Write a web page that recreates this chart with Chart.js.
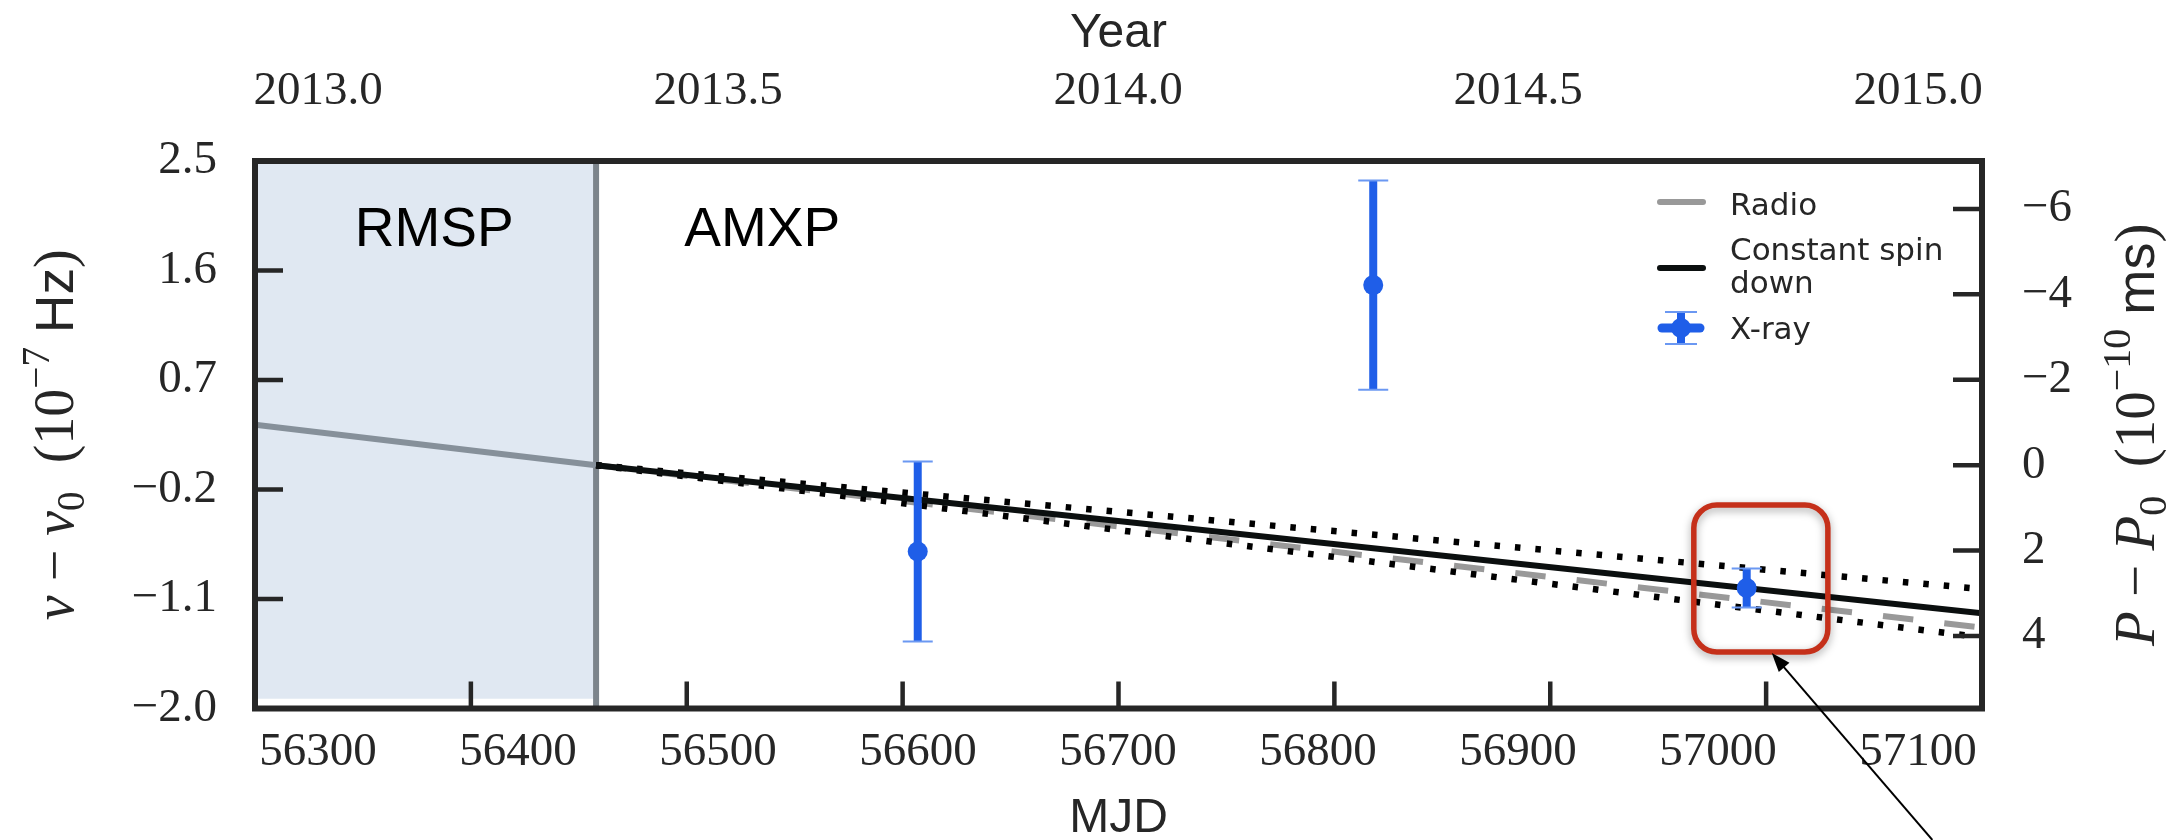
<!DOCTYPE html>
<html>
<head>
<meta charset="utf-8">
<title>Spin frequency evolution</title>
<script src="https://cdn.jsdelivr.net/npm/chart.js@4.4.1/dist/chart.umd.min.js"></script>
<style>
  html, body { margin: 0; padding: 0; background: #fff; }
  canvas { display: block; }
</style>
</head>
<body>
<canvas id="chart" width="2176" height="840"></canvas>
<script>
// tick values
const mjdTicks = [56300, 56400, 56500, 56600, 56700, 56800, 56900, 57000, 57100];
const yearTicks = [2013.0, 2013.5, 2014.0, 2014.5, 2015.0];
const nuTicks = [-2.0, -1.1, -0.2, 0.7, 1.6, 2.5];
const periodTicks = [-6, -4, -2, 0, 2, 4];

// RMSP -> AMXP transition
const transitionMJD = 56458;
const rmspShadeFloor = -1.92;

// radio timing solution, extrapolated after the transition
const radioMJD = [56300, 56458, 57100];
const radioNu = [0.333, 0.0, -1.335];

// constant spin-down from the transition, with its bounds
const spinMJD = [56458, 57100];
const spinNu = [0.0, -1.217];
const spinUpperNu = [0.0, -1.018];
const spinLowerNu = [0.0, -1.416];

// X-ray pulse frequencies
const xrayMJD = [56607, 56818, 56991];
const xrayNu = [-0.71, 1.48, -1.01];
const xrayErr = [0.74, 0.86, 0.16];

const phaseNames = ['RMSP', 'AMXP'];
const phaseNameMJD = [56383, 56535];
const phaseNameNu = 1.80;

// red callout round the last X-ray point, and the arrow pointing at it
const calloutMJD = [56966.5, 57028.6];
const calloutNu = [-0.327, -1.536];
const arrowMJD = [57077, 57002.6];
const arrowNu = [-3.08, -1.544];

// the printed MJD and year labels sit on a slightly narrower span than
// the tick marks in the source figure, so they get their own axes
const mjdLabelRange = [56268.5, 57132];
const yearRange = [2012.921, 2015.08];

const nu0 = 592.42; // Hz
const periodPerNu = 1e6 / (nu0 * nu0); // 1e-7 Hz -> 1e-10 ms

const ink = '#262626';
const serif = "'Liberation Serif', 'DejaVu Serif', serif";
const sans = "'Liberation Sans', Arial, sans-serif";
const blue = '#1f5ee8';

const pts = (xs, ys) => xs.map((x, i) => ({ x, y: ys[i] }));
const minus = (s) => s.replace('-', '\u2212');

const errorBars = xrayMJD.map((m, i) => ({
  data: [{ x: m, y: xrayNu[i] - xrayErr[i] }, { x: m, y: xrayNu[i] + xrayErr[i] }],
  borderColor: blue,
  borderWidth: 8,
  borderCapStyle: 'butt',
  pointStyle: 'line',
  pointRadius: 15,
  pointBorderWidth: 2,
  pointBorderColor: '#6b98f2',
  order: 2,
}));

const dotted = {
  borderColor: '#000',
  borderWidth: 6.5,
  borderDash: [5.5, 15],
  borderCapStyle: 'butt',
  pointRadius: 0,
  order: 7,
};

const datasets = [
  {
    // RMSP phase shading
    data: [{ x: 56300, y: rmspShadeFloor }, { x: transitionMJD, y: rmspShadeFloor }],
    fill: 'end',
    backgroundColor: '#e0e8f2',
    borderColor: 'rgba(0,0,0,0)',
    borderWidth: 0,
    pointRadius: 0,
    order: 10,
  },
  {
    data: [{ x: transitionMJD, y: nuTicks[0] }, { x: transitionMJD, y: nuTicks[nuTicks.length - 1] }],
    borderColor: '#7c848b',
    borderWidth: 6,
    pointRadius: 0,
    order: 9,
  },
  {
    label: 'Radio',
    data: pts(radioMJD, radioNu),
    borderColor: '#999999',
    borderWidth: 6,
    borderCapStyle: 'butt',
    pointRadius: 0,
    segment: {
      borderColor: (c) => (c.p0DataIndex === 0 ? '#86909a' : undefined),
      borderDash: (c) => (c.p0DataIndex === 1 ? [30.5, 31.2] : undefined),
    },
    order: 8,
  },
  { ...dotted, data: pts(spinMJD, spinUpperNu) },
  { ...dotted, data: pts(spinMJD, spinLowerNu) },
  {
    label: 'Constant spin down',
    data: pts(spinMJD, spinNu),
    borderColor: '#0b0f0f',
    borderWidth: 6,
    pointRadius: 0,
    order: 6,
  },
  ...errorBars,
  {
    label: 'X-ray',
    data: pts(xrayMJD, xrayNu),
    showLine: false,
    pointRadius: 10,
    pointBackgroundColor: blue,
    pointBorderWidth: 0,
    order: 1,
  },
];

function roundRect(ctx, x, y, w, h, r) {
  ctx.beginPath();
  ctx.moveTo(x + r, y);
  ctx.arcTo(x + w, y, x + w, y + h, r);
  ctx.arcTo(x + w, y + h, x, y + h, r);
  ctx.arcTo(x, y + h, x, y, r);
  ctx.arcTo(x, y, x + w, y, r);
  ctx.closePath();
}

// axis label with italic symbol, subscript and superscript, read bottom to top
function drawMathLabel(ctx, parts, cx, cy, size) {
  const fontFor = (kind) => {
    if (kind === 'i') return `italic ${size}px ${serif}`;
    if (kind === 's') return `${size * 0.95}px ${sans}`;
    if (kind === 'sub' || kind === 'sup') return `${size * 0.7}px ${serif}`;
    return `${size}px ${serif}`;
  };
  ctx.save();
  ctx.translate(cx, cy);
  ctx.rotate(-Math.PI / 2);
  ctx.fillStyle = ink;
  ctx.textBaseline = 'alphabetic';
  ctx.textAlign = 'left';
  let total = 0;
  const widths = parts.map(([t, k]) => {
    ctx.font = fontFor(k);
    const w = ctx.measureText(t).width;
    total += w;
    return w;
  });
  let x = -total / 2;
  const base = size * 0.32;
  parts.forEach(([t, k], i) => {
    ctx.font = fontFor(k);
    let dy = 0;
    if (k === 'sub') dy = size * 0.2;
    if (k === 'sup') dy = -size * 0.42;
    ctx.fillText(t, x, base + dy);
    x += widths[i];
  });
  ctx.restore();
}

const figurePlugin = {
  id: 'figure',
  afterDraw(chart) {
    const ctx = chart.ctx;
    const area = chart.chartArea;
    const sx = chart.scales.x;
    const sy = chart.scales.y;
    const sp = chart.scales.yP;

    ctx.save();

    // inward tick marks
    ctx.strokeStyle = ink;
    ctx.lineWidth = 4.5;
    ctx.lineCap = 'butt';
    ctx.beginPath();
    mjdTicks.slice(1, -1).forEach((v) => {
      const px = sx.getPixelForValue(v);
      ctx.moveTo(px, area.bottom);
      ctx.lineTo(px, area.bottom - 27);
    });
    nuTicks.slice(1, -1).forEach((v) => {
      const py = sy.getPixelForValue(v);
      ctx.moveTo(area.left, py);
      ctx.lineTo(area.left + 28, py);
    });
    periodTicks.forEach((v) => {
      const py = sp.getPixelForValue(v);
      ctx.moveTo(area.right, py);
      ctx.lineTo(area.right - 29, py);
    });
    ctx.stroke();

    // frame
    ctx.lineWidth = 6;
    ctx.strokeRect(area.left, area.top, area.right - area.left, area.bottom - area.top);

    // phase names
    ctx.fillStyle = '#000';
    ctx.font = `55px ${sans}`;
    ctx.textAlign = 'center';
    ctx.textBaseline = 'alphabetic';
    phaseNames.forEach((t, i) => {
      ctx.fillText(t, sx.getPixelForValue(phaseNameMJD[i]), sy.getPixelForValue(phaseNameNu));
    });

    // red callout
    const bx0 = sx.getPixelForValue(calloutMJD[0]);
    const bx1 = sx.getPixelForValue(calloutMJD[1]);
    const by0 = sy.getPixelForValue(calloutNu[0]);
    const by1 = sy.getPixelForValue(calloutNu[1]);
    ctx.save();
    ctx.shadowColor = 'rgba(0,0,0,0.35)';
    ctx.shadowBlur = 8;
    ctx.shadowOffsetY = 3;
    ctx.strokeStyle = '#c5301a';
    ctx.lineWidth = 5.5;
    roundRect(ctx, bx0, by0, bx1 - bx0, by1 - by0, 23);
    ctx.stroke();
    ctx.restore();

    // arrow
    const ax0 = sx.getPixelForValue(arrowMJD[0]);
    const ay0 = sy.getPixelForValue(arrowNu[0]);
    const ax1 = sx.getPixelForValue(arrowMJD[1]);
    const ay1 = sy.getPixelForValue(arrowNu[1]);
    const ang = Math.atan2(ay1 - ay0, ax1 - ax0);
    ctx.strokeStyle = '#000';
    ctx.fillStyle = '#000';
    ctx.lineWidth = 2;
    ctx.beginPath();
    ctx.moveTo(ax0, ay0);
    ctx.lineTo(ax1 - 12 * Math.cos(ang), ay1 - 12 * Math.sin(ang));
    ctx.stroke();
    ctx.beginPath();
    ctx.moveTo(ax1, ay1);
    ctx.lineTo(ax1 - 19 * Math.cos(ang) + 7 * Math.sin(ang), ay1 - 19 * Math.sin(ang) - 7 * Math.cos(ang));
    ctx.lineTo(ax1 - 19 * Math.cos(ang) - 7 * Math.sin(ang), ay1 - 19 * Math.sin(ang) + 7 * Math.cos(ang));
    ctx.closePath();
    ctx.fill();

    // legend, upper right
    const lx = area.right - 322;
    const tx = area.right - 252;
    const ly = area.top;
    ctx.lineCap = 'round';
    ctx.lineWidth = 6;
    ctx.strokeStyle = '#999999';
    ctx.beginPath();
    ctx.moveTo(lx, ly + 41);
    ctx.lineTo(lx + 43, ly + 41);
    ctx.stroke();
    ctx.strokeStyle = '#0b0f0f';
    ctx.beginPath();
    ctx.moveTo(lx, ly + 107);
    ctx.lineTo(lx + 43, ly + 107);
    ctx.stroke();
    // X-ray handle
    const hx = lx + 21;
    const hy = ly + 167;
    ctx.strokeStyle = blue;
    ctx.lineWidth = 9;
    ctx.beginPath();
    ctx.moveTo(hx - 19, hy);
    ctx.lineTo(hx + 19, hy);
    ctx.stroke();
    ctx.lineCap = 'butt';
    ctx.lineWidth = 8;
    ctx.beginPath();
    ctx.moveTo(hx, hy - 16);
    ctx.lineTo(hx, hy + 16);
    ctx.stroke();
    ctx.strokeStyle = '#6b98f2';
    ctx.lineWidth = 2;
    ctx.beginPath();
    ctx.moveTo(hx - 16, hy - 16);
    ctx.lineTo(hx + 16, hy - 16);
    ctx.moveTo(hx - 16, hy + 16);
    ctx.lineTo(hx + 16, hy + 16);
    ctx.stroke();
    ctx.fillStyle = blue;
    ctx.beginPath();
    ctx.arc(hx, hy, 10, 0, Math.PI * 2);
    ctx.fill();

    ctx.fillStyle = ink;
    ctx.font = `31px 'DejaVu Sans', sans-serif`;
    ctx.textAlign = 'left';
    ctx.textBaseline = 'alphabetic';
    ctx.fillText('Radio', tx, ly + 54);
    ctx.fillText('Constant spin', tx, ly + 99);
    ctx.fillText('down', tx, ly + 132);
    ctx.fillText('X-ray', tx, ly + 178);

    // y axis titles
    const midY = (area.top + area.bottom) / 2;
    drawMathLabel(ctx, [
      ['\u03bd', 'i'], [' \u2212 ', 'r'], ['\u03bd', 'i'], ['0', 'sub'],
      ['  (10', 'r'], ['\u22127', 'sup'], [' ', 'r'], ['Hz', 's'], [')', 'r'],
    ], 55, midY, 56);
    drawMathLabel(ctx, [
      ['P', 'i'], [' \u2212 ', 'r'], ['P', 'i'], ['0', 'sub'],
      ['  (10', 'r'], ['\u221210', 'sup'], [' ', 'r'], ['ms', 's'], [')', 'r'],
    ], 2136, midY, 57);

    ctx.restore();
  },
};

const tickFont = { family: serif, size: 47 };

new Chart(document.getElementById('chart'), {
  type: 'line',
  data: { datasets },
  options: {
    responsive: false,
    maintainAspectRatio: false,
    devicePixelRatio: 1,
    animation: false,
    events: [],
    layout: { padding: 0 },
    plugins: {
      legend: { display: false },
      tooltip: { enabled: false },
    },
    scales: {
      x: {
        type: 'linear',
        display: false,
        min: mjdTicks[0],
        max: mjdTicks[mjdTicks.length - 1],
      },
      xLab: {
        type: 'linear',
        position: 'bottom',
        min: mjdLabelRange[0],
        max: mjdLabelRange[1],
        afterBuildTicks: (s) => { s.ticks = mjdTicks.map((value) => ({ value })); },
        afterFit: (s) => { s.height = 131.5; },
        grid: { display: false, drawTicks: false },
        border: { display: false },
        ticks: {
          font: tickFont,
          color: ink,
          padding: 16,
          autoSkip: false,
          maxRotation: 0,
          callback: (v) => String(v),
        },
        title: {
          display: true,
          text: 'MJD',
          color: ink,
          font: { family: sans, size: 48, lineHeight: 0.9 },
          padding: { top: 0, bottom: 0 },
        },
      },
      year: {
        type: 'linear',
        position: 'top',
        min: yearRange[0],
        max: yearRange[1],
        afterBuildTicks: (s) => { s.ticks = yearTicks.map((value) => ({ value })); },
        afterFit: (s) => { s.height = 161; },
        grid: { display: false, drawTicks: false },
        border: { display: false },
        ticks: {
          font: tickFont,
          color: ink,
          padding: 41,
          autoSkip: false,
          maxRotation: 0,
          callback: (v) => v.toFixed(1),
        },
        title: {
          display: true,
          text: 'Year',
          color: ink,
          font: { family: sans, size: 48 },
          padding: { top: 5, bottom: 0 },
        },
      },
      y: {
        type: 'linear',
        position: 'left',
        min: nuTicks[0],
        max: nuTicks[nuTicks.length - 1],
        afterBuildTicks: (s) => { s.ticks = nuTicks.map((value) => ({ value })); },
        afterFit: (s) => { s.width = 255; },
        grid: { display: false, drawTicks: false },
        border: { display: false },
        ticks: {
          font: tickFont,
          color: ink,
          padding: 38,
          autoSkip: false,
          callback: (v) => minus(v.toFixed(1)),
        },
      },
      yP: {
        type: 'linear',
        position: 'right',
        reverse: true,
        min: -nuTicks[nuTicks.length - 1] * periodPerNu,
        max: -nuTicks[0] * periodPerNu,
        afterBuildTicks: (s) => { s.ticks = periodTicks.map((value) => ({ value })); },
        afterFit: (s) => { s.width = 194; },
        grid: { display: false, drawTicks: false },
        border: { display: false },
        ticks: {
          font: tickFont,
          color: ink,
          padding: 40,
          autoSkip: false,
          callback: (v) => minus(String(v)),
        },
      },
    },
  },
  plugins: [figurePlugin],
});
</script>
</body>
</html>
